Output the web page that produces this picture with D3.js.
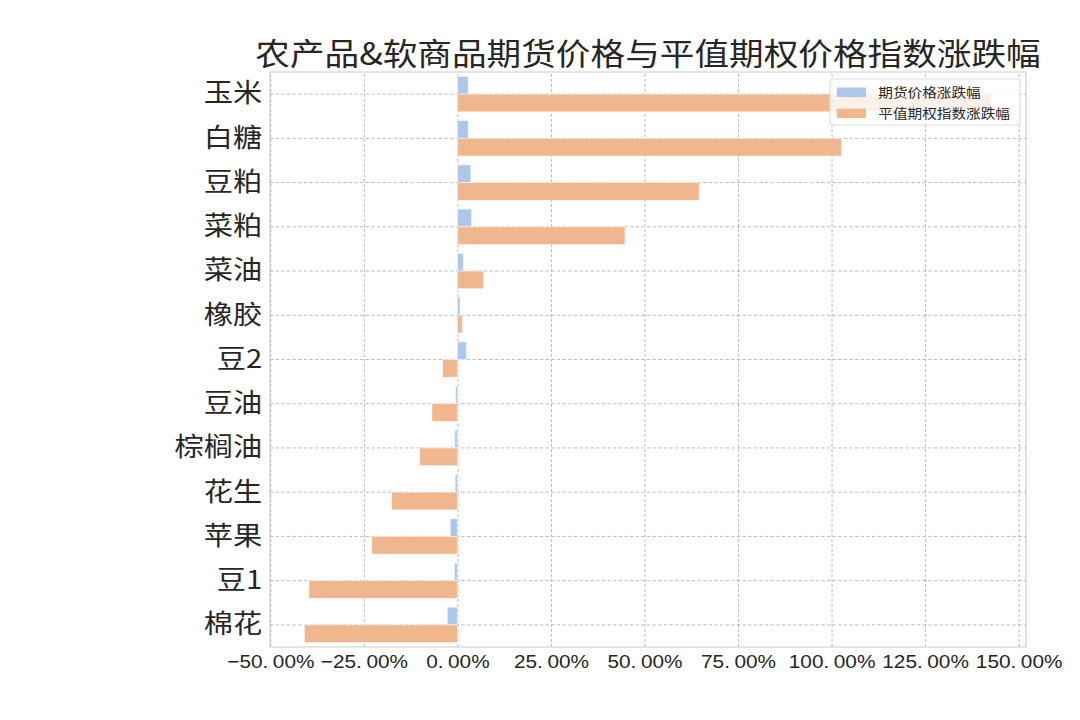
<!DOCTYPE html>
<html>
<head>
<meta charset="utf-8">
<script src="https://cdn.jsdelivr.net/npm/d3@7"></script>
<style>
  html, body { margin: 0; padding: 0; background: #fff; }
  svg { display: block; }
</style>
</head>
<body>
<div id="chart"></div>
<script>
const title = "农产品&软商品期货价格与平值期权价格指数涨跌幅";
const categories = ["玉米","白糖","豆粕","菜粕","菜油","橡胶","豆2","豆油","棕榈油","花生","苹果","豆1","棉花"];
const futuresChange = [2.9, 2.9, 3.6, 3.8, 1.6, 0.7, 2.4, -0.5, -0.7, -0.6, -1.9, -0.8, -2.7];
const optionChange  = [142.8, 102.7, 64.6, 44.8, 7.0, 1.3, -4.0, -6.8, -10.1, -17.6, -22.9, -39.7, -40.9];
const seriesNames = ["期货价格涨跌幅", "平值期权指数涨跌幅"];
const xTicks = [-50, -25, 0, 25, 50, 75, 100, 125, 150];

const W = 1080, H = 720;
const SX = 1.125;            // horizontal stretch of the original 4:3 figure
const colors = ["#abc8ec", "#f0b78f"];
const M = { left: 240, right: 912, top: 72, bottom: 647 };

const svg = d3.select("#chart").append("svg").attr("width", W).attr("height", H);
const g = svg.append("g").attr("transform", `scale(${SX},1)`);

const all = futuresChange.concat(optionChange, [0]);
const lo = d3.min(all), hi = d3.max(all), span = hi - lo;
const x = d3.scaleLinear().domain([lo - 0.05 * span, hi + 0.05 * span]).range([M.left, M.right]);
const y = d3.scaleBand().domain(categories).range([M.top, M.bottom]).padding(0);
const step = y.step();
const barH = 0.4 * step;

// grid
const gridX = g.append("g").attr("transform", `translate(0,${M.bottom})`)
  .call(d3.axisBottom(x).tickValues(xTicks).tickSize(-(M.bottom - M.top)).tickFormat(""));
const gridY = g.append("g").attr("transform", `translate(${M.left},0)`)
  .call(d3.axisLeft(y).tickSize(-(M.right - M.left)).tickFormat(""));
[gridX, gridY].forEach(gr => {
  gr.select(".domain").remove();
  gr.selectAll("line").attr("stroke", "#b0b0b0").attr("stroke-width", 0.8).attr("stroke-dasharray", "3,2");
});

// bars
const rows = categories.map((c, i) => ({ c, f: futuresChange[i], o: optionChange[i] }));
g.append("g").selectAll("rect").data(rows).join("rect")
  .attr("x", d => x(Math.min(0, d.f)))
  .attr("width", d => Math.abs(x(d.f) - x(0)))
  .attr("y", d => y(d.c) + step / 2 - barH)
  .attr("height", barH)
  .attr("fill", colors[0])
  .attr("stroke", "#ffffff").attr("stroke-opacity", 0.6).attr("stroke-width", 0.8);
g.append("g").selectAll("rect").data(rows).join("rect")
  .attr("x", d => x(Math.min(0, d.o)))
  .attr("width", d => Math.abs(x(d.o) - x(0)))
  .attr("y", d => y(d.c) + step / 2)
  .attr("height", barH)
  .attr("fill", colors[1])
  .attr("stroke", "#ffffff").attr("stroke-opacity", 0.6).attr("stroke-width", 0.8);

// frame
g.append("rect").attr("x", M.left).attr("y", M.top)
  .attr("width", M.right - M.left).attr("height", M.bottom - M.top)
  .attr("fill", "none").attr("stroke", "#cccccc").attr("stroke-width", 1);

// y labels
const yAx = g.append("g").attr("transform", `translate(${M.left},0)`)
  .call(d3.axisLeft(y).tickSize(0).tickPadding(7));
yAx.select(".domain").remove();
yAx.selectAll("text")
  .attr("font-family", "'Noto Sans CJK SC', 'Noto Sans', sans-serif")
  .attr("font-size", 26).attr("fill", "#262626");

// x labels
const xAx = g.append("g").attr("transform", `translate(0,${M.bottom})`)
  .call(d3.axisBottom(x).tickValues(xTicks).tickSize(0).tickPadding(8).tickFormat(""));
xAx.select(".domain").remove();
xAx.selectAll(".tick text").each(function(d) {
  const t = d3.select(this);
  const s = (d < 0 ? "\u2212" : "") + Math.abs(d).toFixed(2);
  const parts = s.split(".");
  t.text(null)
    .attr("font-family", "'Liberation Sans', Arial, sans-serif")
    .attr("font-size", 18.5).attr("fill", "#262626").attr("dy", "0.71em");
  t.append("tspan").text(parts[0] + ".");
  t.append("tspan").attr("dx", 4).text(parts[1] + "%");
});

// title
g.append("text")
  .attr("x", (M.left + M.right) / 2).attr("y", 65)
  .attr("text-anchor", "middle")
  .attr("font-family", "'Noto Sans CJK SC', sans-serif")
  .attr("font-size", 30.8).attr("fill", "#262626")
  .text(title);

// legend
const lgX = 830 / SX, lgY = 79, lgW = (1020 - 830) / SX, lgH = 46;
const lg = g.append("g");
lg.append("rect").attr("x", lgX).attr("y", lgY).attr("width", lgW).attr("height", lgH)
  .attr("rx", 3).attr("fill", "#ffffff").attr("fill-opacity", 0.8)
  .attr("stroke", "#dddddd").attr("stroke-width", 1);
seriesNames.forEach((name, i) => {
  const yy = lgY + 13 + i * 21;
  lg.append("rect").attr("x", lgX + 6).attr("y", yy - 4.5).attr("width", 26).attr("height", 9.5)
    .attr("fill", colors[i]);
  lg.append("text").attr("x", lgX + 43).attr("y", yy).attr("dy", "0.35em")
    .attr("font-family", "'Noto Sans CJK SC', sans-serif")
    .attr("font-size", 13).attr("fill", "#262626").text(name);
});
</script>
</body>
</html>
